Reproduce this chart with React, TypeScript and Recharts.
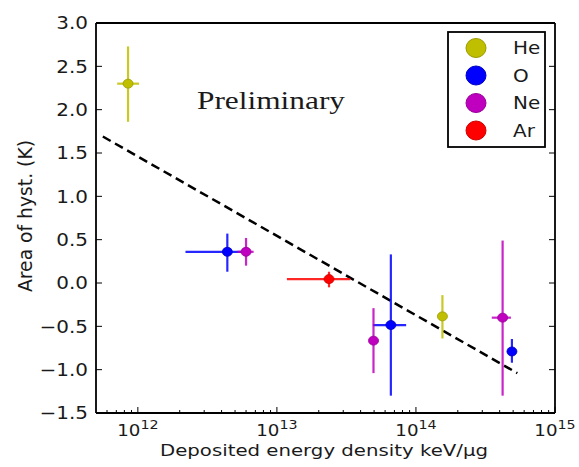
import {
  ScatterChart,
  Scatter,
  XAxis,
  YAxis,
  ErrorBar,
  ReferenceLine,
} from "recharts";

type Measurement = {
  x: number;
  y: number;
  xLo: number;
  xHi: number;
  yLo: number;
  yHi: number;
};

// deposited energy density (keV/ug) vs area of hysteresis (K)
const HE: Measurement[] = [
  { x: 8.5e11, y: 2.3, xLo: 7.1e11, xHi: 1.02e12, yLo: 1.86, yHi: 2.73 },
  { x: 1.55e14, y: -0.385, xLo: 1.55e14, xHi: 1.55e14, yLo: -0.64, yHi: -0.14 },
];

const OXY: Measurement[] = [
  { x: 4.4e12, y: 0.36, xLo: 2.2e12, xHi: 5.6e12, yLo: 0.13, yHi: 0.57 },
  { x: 6.6e13, y: -0.485, xLo: 4.9e13, xHi: 8.5e13, yLo: -1.3, yHi: 0.33 },
  { x: 4.9e14, y: -0.79, xLo: 4.9e14, xHi: 4.9e14, yLo: -0.92, yHi: -0.646 },
];

const NE: Measurement[] = [
  { x: 6.0e12, y: 0.36, xLo: 5.2e12, xHi: 6.8e12, yLo: 0.2, yHi: 0.52 },
  { x: 4.95e13, y: -0.665, xLo: 4.63e13, xHi: 5.38e13, yLo: -1.04, yHi: -0.29 },
  { x: 4.2e14, y: -0.4, xLo: 3.51e14, xHi: 4.82e14, yLo: -1.3, yHi: 0.49 },
];

const AR: Measurement[] = [
  { x: 2.37e13, y: 0.045, xLo: 1.18e13, xHi: 3.37e13, yLo: -0.05, yHi: 0.13 },
];

const SERIES = [
  { name: "He", color: "#bfbf00", edge: "#9a9a00", points: HE },
  { name: "O", color: "#0000ff", edge: "#0000c0", points: OXY },
  { name: "Ne", color: "#bf00bf", edge: "#990099", points: NE },
  { name: "Ar", color: "#ff0000", edge: "#cc0000", points: AR },
];

// dashed fit line endpoints
const FIT_LINE = [
  { x: 5.6e11, y: 1.69 },
  { x: 5.36e14, y: -1.04 },
];

const X_DOMAIN = [5e11, 1e15];
const X_MAJOR_TICKS = [1e12, 1e13, 1e14, 1e15];
const MINOR_STEPS = [2, 3, 4, 5, 6, 7, 8, 9];
const Y_TICKS = [-1.5, -1.0, -0.5, 0.0, 0.5, 1.0, 1.5, 2.0, 2.5, 3.0];

const X_LABEL = "Deposited energy density keV/\u03bcg";
const Y_LABEL = "Area of hyst. (K)";
const NOTE = "Preliminary";

const SANS = "'DejaVu Sans', sans-serif";
const INK = "#1a1a1a";
const STRETCH = 1.14;

const minorTicks = [1e11, ...X_MAJOR_TICKS]
  .flatMap((d) => MINOR_STEPS.map((m) => m * d))
  .filter((v) => v > X_DOMAIN[0] && v < X_DOMAIN[1]);
const xTicks = [...X_MAJOR_TICKS, ...minorTicks].sort((a, b) => a - b);

const isMajor = (v: number) => {
  const l = Math.log10(v);
  return Math.abs(l - Math.round(l)) < 1e-6;
};

const toRows = (pts: Measurement[]) =>
  pts.map((p) => ({
    x: p.x,
    y: p.y,
    ex: [p.x - p.xLo, p.xHi - p.x],
    ey: [p.y - p.yLo, p.yHi - p.y],
  }));

function BottomTick(props: any) {
  const { x, y, payload } = props;
  const v = payload.value;
  const major = isMajor(v);
  return (
    <g>
      <line x1={x} x2={x} y1={y} y2={y - (major ? 6 : 3)} stroke="#000" strokeWidth={1} />
      {major && (
        <g transform={`translate(${x},${y + 23}) scale(${STRETCH},1)`}>
          <text textAnchor="middle" fontFamily={SANS} fontSize={16} fill={INK}>
            10
            <tspan dy={-7.5} fontSize={12.5}>
              {Math.round(Math.log10(v))}
            </tspan>
          </text>
        </g>
      )}
    </g>
  );
}

function TopTick(props: any) {
  const { x, y, payload } = props;
  const major = isMajor(payload.value);
  return <line x1={x} x2={x} y1={y} y2={y + (major ? 6 : 3)} stroke="#000" strokeWidth={1} />;
}

function LeftTick(props: any) {
  const { x, y, payload } = props;
  const v: number = payload.value;
  const txt = (v < 0 ? "\u2212" : "") + Math.abs(v).toFixed(1);
  return (
    <g>
      <line x1={x} x2={x + 6} y1={y} y2={y} stroke="#000" strokeWidth={1} />
      <g transform={`translate(${x - 8},${y}) scale(${STRETCH},1)`}>
        <text textAnchor="end" dy="0.36em" fontFamily={SANS} fontSize={17.5} fill={INK}>
          {txt}
        </text>
      </g>
    </g>
  );
}

function RightTick(props: any) {
  const { x, y } = props;
  return <line x1={x} x2={x - 6} y1={y} y2={y} stroke="#000" strokeWidth={1} />;
}

function Marker(props: any) {
  const { cx, cy, fill, stroke } = props;
  if (cx == null || cy == null) return null;
  return <ellipse cx={cx} cy={cy} rx={5} ry={4.5} fill={fill} stroke={stroke} strokeWidth={0.8} />;
}

function Overlay() {
  return (
    <svg
      width={579}
      height={467}
      style={{ position: "absolute", left: 0, top: 0, pointerEvents: "none" }}
    >
      <text
        x={197}
        y={109}
        fontFamily="'Liberation Serif', 'Times New Roman', serif"
        fontSize={25}
        fill={INK}
        textLength={148}
        lengthAdjust="spacingAndGlyphs"
      >
        {NOTE}
      </text>
      <text
        x={324}
        y={456}
        textAnchor="middle"
        fontFamily={SANS}
        fontSize={16.5}
        fill={INK}
        textLength={328}
        lengthAdjust="spacingAndGlyphs"
      >
        {X_LABEL}
      </text>
      <g transform={`translate(32,216) scale(${STRETCH},1) rotate(-90)`}>
        <text
          textAnchor="middle"
          fontFamily={SANS}
          fontSize={17.5}
          fill={INK}
          textLength={152}
          lengthAdjust="spacingAndGlyphs"
        >
          {Y_LABEL}
        </text>
      </g>
      <rect x={448} y={32} width={97} height={115} fill="#fff" stroke="#000" strokeWidth={1.8} />
      {SERIES.map((s, i) => (
        <g key={s.name}>
          <ellipse
            cx={476}
            cy={48 + i * 27.5}
            rx={10}
            ry={9.5}
            fill={s.color}
            stroke={s.edge}
            strokeWidth={1}
          />
          <g transform={`translate(513,${48 + i * 27.5}) scale(${STRETCH},1)`}>
            <text dy="0.36em" fontFamily={SANS} fontSize={17.5} fill={INK}>
              {s.name}
            </text>
          </g>
        </g>
      ))}
    </svg>
  );
}

export default function App() {
  return (
    <div style={{ position: "absolute", left: 0, top: 0, width: 579, height: 467, background: "#fff" }}>
      <ScatterChart
        width={579}
        height={467}
        margin={{ top: 13, right: 14, bottom: 14, left: 36 }}
      >
        <XAxis
          xAxisId="b"
          dataKey="x"
          type="number"
          scale="log"
          domain={X_DOMAIN}
          allowDataOverflow
          ticks={xTicks}
          interval={0}
          height={40}
          tickSize={0}
          tickMargin={0}
          tickLine={false}
          tick={<BottomTick />}
          axisLine={{ stroke: "#000", strokeWidth: 1.8 }}
        />
        <XAxis
          xAxisId="t"
          orientation="top"
          type="number"
          scale="log"
          domain={X_DOMAIN}
          allowDataOverflow
          ticks={xTicks}
          interval={0}
          height={10}
          tickSize={0}
          tickMargin={0}
          tickLine={false}
          tick={<TopTick />}
          axisLine={{ stroke: "#000", strokeWidth: 1.8 }}
        />
        <YAxis
          yAxisId="l"
          dataKey="y"
          type="number"
          domain={[-1.5, 3]}
          allowDataOverflow
          ticks={Y_TICKS}
          interval={0}
          width={60}
          tickSize={0}
          tickMargin={0}
          tickLine={false}
          tick={<LeftTick />}
          axisLine={{ stroke: "#000", strokeWidth: 1.8 }}
        />
        <YAxis
          yAxisId="r"
          orientation="right"
          type="number"
          domain={[-1.5, 3]}
          allowDataOverflow
          ticks={Y_TICKS}
          interval={0}
          width={10}
          tickSize={0}
          tickMargin={0}
          tickLine={false}
          tick={<RightTick />}
          axisLine={{ stroke: "#000", strokeWidth: 1.8 }}
        />
        <ReferenceLine
          xAxisId="b"
          yAxisId="l"
          segment={FIT_LINE}
          stroke="#000"
          strokeWidth={2.5}
          strokeDasharray="9 5"
          ifOverflow="visible"
        />
        {SERIES.map((s) => (
          <Scatter
            key={s.name}
            name={s.name}
            xAxisId="b"
            yAxisId="l"
            data={toRows(s.points)}
            fill={s.color}
            stroke={s.edge}
            shape={<Marker />}
            isAnimationActive={false}
          >
            <ErrorBar
              dataKey="ex"
              direction="x"
              width={0}
              stroke={s.color}
              strokeOpacity={0.85}
              strokeWidth={2.2}
              isAnimationActive={false}
            />
            <ErrorBar
              dataKey="ey"
              direction="y"
              width={0}
              stroke={s.color}
              strokeOpacity={0.85}
              strokeWidth={2.2}
              isAnimationActive={false}
            />
          </Scatter>
        ))}
      </ScatterChart>
      <Overlay />
    </div>
  );
}
